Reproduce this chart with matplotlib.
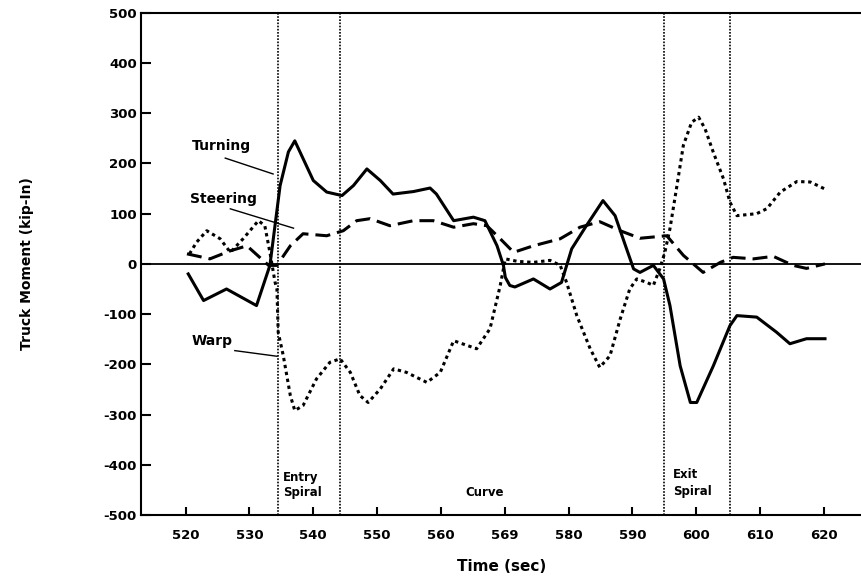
import matplotlib.pyplot as plt

plt.rcParams['font.family'] = ['DejaVu Sans']
plt.rcParams['font.weight'] = 'bold'
plt.rcParams['axes.labelweight'] = 'bold'
plt.rcParams['axes.unicode_minus'] = False

# Turning moment (solid)
turn_t = [520.4, 522.8, 526.4, 531.1, 533.2, 534.8, 536.1, 537.1, 540.0, 542.1, 544.5,
          546.3, 548.4, 550.5, 552.5, 555.7, 558.3, 559.3, 562.0, 565.1, 566.9, 568.8,
          569.8, 570.1, 570.8, 571.6, 574.5, 577.1, 578.9, 580.5, 582.8, 585.4, 587.3,
          589.1, 590.2, 591.2, 593.3, 594.9, 595.9, 597.5, 599.1, 600.1, 602.7, 605.3,
          606.4, 609.5, 612.6, 614.7, 617.3, 620.2]
turn_m = [-20, -73, -50, -83, -3, 156, 223, 245, 166, 143, 136,
          156, 189, 166, 139, 144, 151, 139, 86, 93, 86, 36,
          -3, -27, -43, -46, -30, -50, -37, 30, 76, 126, 96,
          30, -10, -17, -3, -30, -83, -203, -276, -276, -203, -123,
          -103, -106, -136, -159, -149, -149]

# Steering moment (long dash)
steer_t = [520.2, 523.8, 527.0, 529.6, 533.0, 534.3, 536.4, 538.4, 542.1, 544.7, 546.8,
           548.9, 552.0, 555.7, 558.8, 562.0, 565.1, 567.2, 569.3, 571.4, 574.5, 578.7,
           581.8, 584.9, 588.1, 591.2, 595.4, 598.0, 601.1, 603.8, 605.8, 609.0, 612.1,
           615.2, 617.3, 620.2]
steer_m = [20, 10, 26, 36, -3, -3, 36, 60, 56, 66, 86,
           90, 76, 86, 86, 73, 80, 76, 50, 23, 36, 50,
           73, 84, 66, 51, 56, 17, -17, 3, 13, 10, 15,
           -3, -9, 0]

# Warp moment (dotted)
warp_t = [520.6, 521.7, 523.3, 525.4, 527.0, 529.0, 531.4, 532.4, 533.2, 534.0, 534.3,
          534.5, 535.3, 536.4, 537.1, 538.4, 540.5, 542.6, 544.2, 545.8, 547.3, 548.6,
          550.5, 552.6, 554.6, 557.8, 559.9, 562.0, 565.6, 567.7, 569.3, 570.1, 572.0,
          574.5, 577.1, 578.7, 579.7, 581.3, 583.4, 584.9, 586.5, 588.1, 589.6, 590.7,
          592.3, 593.3, 594.3, 595.1, 595.9, 597.0, 598.0, 599.3, 600.4, 601.4, 602.7,
          604.3, 605.3, 606.4, 609.5, 611.1, 613.2, 615.8, 617.9, 620.2]
warp_m = [20, 43, 66, 50, 23, 50, 86, 76, 23, -36, -50,
          -136, -183, -262, -292, -282, -229, -196, -189, -216, -262, -276,
          -249, -209, -216, -236, -216, -153, -169, -129, -43, 10, 5,
          3, 7, -3, -37, -103, -169, -206, -183, -110, -50, -30,
          -37, -43, -10, 23, 70, 156, 236, 282, 292, 269, 222,
          169, 123, 96, 100, 110, 143, 164, 163, 149]

x_ticks = [520, 530, 540, 550, 560, 570, 580, 590, 600, 610, 620]
x_labels = ['520', '530', '540', '550', '560', '569', '580', '590', '600', '610', '620']
y_ticks = [500, 400, 300, 200, 100, 0, -100, -200, -300, -400, -500]

# section boundaries (entry spiral, curve, exit spiral)
bounds = [534.4, 544.2, 595.0, 605.3]

fig = plt.figure(figsize=(8.62, 5.82), dpi=100)
ax = fig.add_axes([0.1636, 0.1151, 0.8364, 0.8630])

ax.axhline(0, color='black', lw=1.3)
for b in bounds:
    ax.axvline(b, color='black', lw=1.2, dashes=(1.0, 0.9))

ax.plot(turn_t, turn_m, color='black', lw=2.2, solid_joinstyle='round')
ax.plot(steer_t, steer_m, color='black', lw=2.2, dashes=(4.9, 2.3))
ax.plot(warp_t, warp_m, color='black', lw=2.2, dashes=(1.1, 1.2))

ax.set_xlim(513.0, 626.0)
ax.set_ylim(-500, 500)
ax.set_xticks(x_ticks)
ax.set_xticklabels(x_labels)
ax.set_yticks(y_ticks)
ax.tick_params(direction='in', width=1.5, labelsize=9.5)
ax.tick_params(axis='y', length=7, pad=3)
ax.tick_params(axis='x', length=5.5, pad=10)
for s in ['left', 'bottom', 'top']:
    ax.spines[s].set_linewidth(1.5)
ax.spines['right'].set_visible(False)

ax.set_xlabel('Time (sec)', fontsize=11, labelpad=12)
ax.set_ylabel('Truck Moment (kip-In)', fontsize=10, labelpad=50)

# curve name labels with leader lines
ax.text(520.9, 235.6, 'Turning', fontsize=10, va='center')
ax.plot([526.2, 533.7], [210.6, 179.0], color='black', lw=1.0)
ax.text(520.7, 129.5, 'Steering', fontsize=10, va='center')
ax.plot([527.0, 536.9], [109.6, 71.1], color='black', lw=1.0)
ax.text(520.9, -152.8, 'Warp', fontsize=10, va='center')
ax.plot([527.7, 534.3], [-172.7, -183.9], color='black', lw=1.0)

ax.text(535.3, -440, 'Entry\nSpiral', fontsize=8.5, va='center', linespacing=1.2)
ax.text(566.9, -455, 'Curve', fontsize=8.5, ha='center', va='center')
ax.text(596.4, -436, 'Exit\nSpiral', fontsize=8.5, va='center', linespacing=1.4)

fig.savefig('out.png', dpi=100)
